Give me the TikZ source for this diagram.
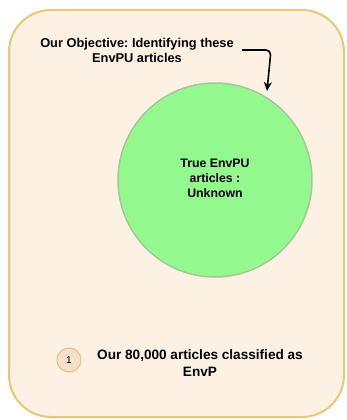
\documentclass[tikz,border=0pt]{standalone}
\usepackage{fontspec}
\setmainfont{Liberation Sans}
\usepackage{tikz}
\usetikzlibrary{arrows.meta, positioning}

\definecolor{panelfill}{HTML}{FDF1E4}
\definecolor{paneldraw}{HTML}{E8C874}
\definecolor{envgreen}{HTML}{93F98E}
\definecolor{envgreendraw}{HTML}{A3C895}
\definecolor{badgefill}{HTML}{F3E0CC}
\definecolor{badgedraw}{HTML}{E6C172}
\frenchspacing

\begin{document}
\begin{tikzpicture}[x=1pt, y=-1pt,
    textlabel/.style={font=\bfseries, align=center, inner sep=0pt}]
      \useasboundingbox (0,0) rectangle (346,420);
      % outer panel
      \filldraw[fill=panelfill, draw=paneldraw, line width=2pt, rounded corners=42pt] (9,10) rectangle (344,417);
      % set of true EnvPU articles
      \node[circle, minimum size=194pt, fill=envgreen, draw=envgreendraw, line width=1.5pt] (truecircle) at (215,180) {};
      \node[textlabel, font=\fontsize{12.3}{15}\selectfont\bfseries] (truetext) at (215,178.5) {True EnvPU\\articles :\\Unknown};
      \node[textlabel, font=\fontsize{12.8}{15}\selectfont\bfseries] (objective) at (137,50.5) {Our Objective: Identifying these\\EnvPU articles};
      \coordinate (arrstart) at (242,50);
      \coordinate (arrend) at (267,91);
      \draw[line width=1.6pt, -{Stealth[length=9pt, width=8pt]}, rounded corners=5pt] (arrstart) -- (271,50) -- (arrend);
      % legend
      \node[circle, minimum size=24pt, inner sep=0pt, fill=badgefill, draw=badgedraw, line width=1pt, font=\fontsize{10}{10}\selectfont] (badge) at (69,360) {1};
      \node[textlabel, font=\fontsize{13.6}{17}\selectfont\bfseries] (legendtext) at (200,363) {Our 80,000 articles classified as\\EnvP};
    \end{tikzpicture}
\end{document}
